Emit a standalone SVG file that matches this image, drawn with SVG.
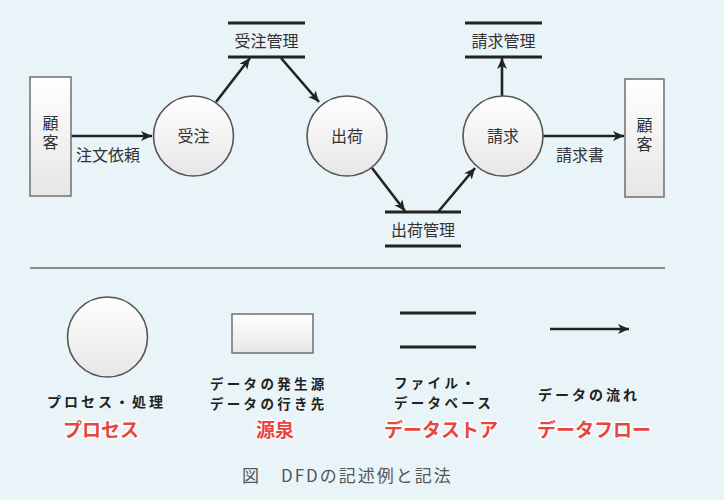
<svg xmlns="http://www.w3.org/2000/svg" width="724" height="500" viewBox="0 0 724 500">
<defs>
<linearGradient id="g" x1="0" y1="0" x2="0" y2="1">
<stop offset="0" stop-color="#ffffff"/>
<stop offset="1" stop-color="#e6e6e6"/>
</linearGradient>
<marker id="ah" markerUnits="userSpaceOnUse" markerWidth="12" markerHeight="12" viewBox="0 0 12 12" refX="11" refY="6" orient="auto">
<path d="M0,1 L11,6 L0,11 L3,6 z" fill="#222"/>
</marker>
<style>
.t{font-family:"Noto Sans CJK JP","Noto Sans",sans-serif;fill:#333;font-size:16px;}
.c{text-anchor:middle;}
.v{writing-mode:vertical-rl;text-anchor:middle;letter-spacing:3px;}
.ent{fill:url(#g);stroke:#777;stroke-width:1.6;}
.proc{fill:url(#g);stroke:#555;stroke-width:1.6;}
.store{stroke:#222;stroke-width:3;}
.flow{stroke:#222;stroke-width:2.6;fill:none;marker-end:url(#ah);}
.lg{font-family:"Noto Sans CJK JP","Noto Sans",sans-serif;font-weight:bold;font-size:14px;fill:#222;letter-spacing:3px;}
.lg2{font-size:13.5px;letter-spacing:3.3px;}
.red{font-family:"Noto Sans CJK JP","Noto Sans",sans-serif;font-weight:bold;font-size:19px;fill:#e8453f;stroke:#fff;stroke-width:3;paint-order:stroke;text-anchor:middle;}
</style>
</defs>
<rect width="724" height="500" fill="#e9f4f9"/>

<g id="connectors">
<line class="flow" x1="71" y1="136" x2="152" y2="136"/>
<line class="flow" x1="216" y1="102" x2="250" y2="58"/>
<line class="flow" x1="281" y1="58" x2="319" y2="102"/>
<line class="flow" x1="372" y1="168" x2="405" y2="211"/>
<line class="flow" x1="438" y1="212" x2="475" y2="168"/>
<line class="flow" x1="502" y1="96" x2="502" y2="58"/>
<line class="flow" x1="543" y1="136" x2="624" y2="136"/>
<text class="t" x="76" y="161">注文依頼</text>
<text class="t" x="556" y="161">請求書</text>
</g>

<g id="customer-left">
<rect class="ent" x="30" y="77" width="41" height="119"/>
<text class="t v" x="50.5" y="134">顧客</text>
</g>

<g id="juchu">
<circle class="proc" cx="193.5" cy="136" r="40"/>
<text class="t c" x="193.5" y="142">受注</text>
</g>

<g id="juchu-kanri">
<line class="store" x1="228" y1="23" x2="305" y2="23"/>
<line class="store" x1="228" y1="57" x2="305" y2="57"/>
<text class="t c" x="266.5" y="47">受注管理</text>
</g>

<g id="shukka">
<circle class="proc" cx="347" cy="136" r="40"/>
<text class="t c" x="347" y="142">出荷</text>
</g>

<g id="shukka-kanri">
<line class="store" x1="385" y1="212" x2="461" y2="212"/>
<line class="store" x1="385" y1="246" x2="461" y2="246"/>
<text class="t c" x="423" y="236">出荷管理</text>
</g>

<g id="seikyu">
<circle class="proc" cx="503" cy="136" r="40"/>
<text class="t c" x="503" y="142">請求</text>
</g>

<g id="seikyu-kanri">
<line class="store" x1="465" y1="23" x2="542" y2="23"/>
<line class="store" x1="465" y1="57" x2="542" y2="57"/>
<text class="t c" x="503.5" y="47">請求管理</text>
</g>

<g id="customer-right">
<rect class="ent" x="625" y="79" width="39" height="118"/>
<text class="t v" x="644.5" y="136">顧客</text>
</g>

<line x1="30" y1="268" x2="665" y2="268" stroke="#666" stroke-width="1.5"/>

<g id="legend-process">
<circle class="proc" cx="107.5" cy="337" r="40"/>
<text class="lg" x="47" y="407">プロセス・処理</text>
<text class="red" x="101" y="437">プロセス</text>
</g>

<g id="legend-source">
<rect class="ent" x="232" y="314" width="81" height="39"/>
<text class="lg lg2" x="210" y="389">データの発生源<tspan x="210" dy="20">データの行き先</tspan></text>
<text class="red" x="275" y="437">源泉</text>
</g>

<g id="legend-store">
<line class="store" x1="400" y1="313" x2="476" y2="313"/>
<line class="store" x1="400" y1="347" x2="476" y2="347"/>
<text class="lg lg2" x="394" y="388">ファイル・<tspan x="394" dy="20">データベース</tspan></text>
<text class="red" x="441" y="437">データストア</text>
</g>

<g id="legend-flow">
<line class="flow" x1="550" y1="329" x2="629" y2="329"/>
<text class="lg" x="538" y="400">データの流れ</text>
<text class="red" x="594" y="437">データフロー</text>
</g>

<g id="caption">
<text class="t" x="242" y="482" style="fill:#555;font-size:17px">図</text>
<text class="t" x="281" y="482" style="fill:#555;font-size:17px;letter-spacing:2px">DFDの記述例と記法</text>
</g>
</svg>
